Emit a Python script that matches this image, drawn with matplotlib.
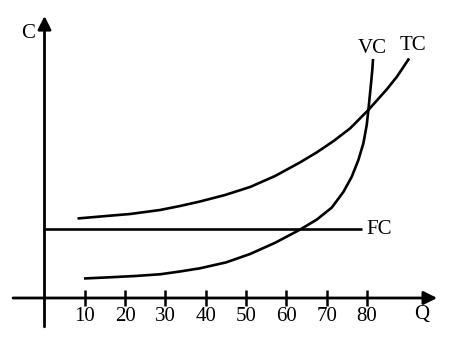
import matplotlib
matplotlib.use("Agg")
import matplotlib.pyplot as plt

plt.rcParams["font.family"] = ["Liberation Serif", "DejaVu Serif"]

# quantity ticks on the Q axis
q_ticks = [10, 20, 30, 40, 50, 60, 70, 80]

# total cost curve
tc_q = [8.19, 16.25, 21.22, 28.66, 33.62, 38.59, 44.79, 51.0, 57.2, 63.4,
        67.54, 71.66, 75.81, 80.35, 84.99, 87.47, 90.45]
tc_c = [19.88, 20.58, 21.0, 22.0, 23.0, 24.13, 25.75, 27.75, 30.5, 33.9,
        36.4, 39.2, 42.4, 47.0, 52.25, 55.38, 59.88]

# variable cost curve
vc_q = [9.8, 16.25, 22.46, 28.66, 33.62, 38.59, 45.04, 51.0, 57.2, 63.4,
        67.54, 71.27, 74.14, 76.23, 77.87, 79.11, 79.95, 80.35, 80.6, 81.02,
        81.32, 81.51]
vc_c = [4.88, 5.18, 5.5, 5.93, 6.63, 7.43, 8.9, 11.0, 13.8, 17.1,
        19.6, 22.6, 26.5, 30.33, 34.5, 38.68, 43.3, 47.0, 49.5, 53.75,
        57.0, 59.75]

# fixed cost line
fc_q = [0, 78.7]
fc_c = [17.2, 17.2]

fig = plt.figure(figsize=(4.5, 3.56), dpi=100)
ax = fig.add_axes([0, 0, 1, 1])
ax.set_xlim(-11.04, 100.6)
ax.set_ylim(-14.5, 74.5)

lw = 1.9
for xs, ys in [(tc_q, tc_c), (vc_q, vc_c), (fc_q, fc_c)]:
    ax.plot(xs, ys, color="black", lw=lw, solid_capstyle="butt",
            solid_joinstyle="round")

# axes with arrow heads
arrow = dict(arrowstyle="-|>", lw=2.0, color="black", mutation_scale=20,
             shrinkA=0, shrinkB=0)
ax.annotate("", xy=(97.4, 0), xytext=(-7.8, 0), arrowprops=arrow)
ax.annotate("", xy=(0, 70.5), xytext=(0, -7.2), arrowprops=arrow)

for s in ax.spines.values():
    s.set_visible(False)
ax.spines["bottom"].set_position(("data", 0))
ax.set_xticks(q_ticks)
ax.set_xticklabels([str(q) for q in q_ticks], fontsize=15)
ax.tick_params(axis="x", direction="inout", length=11, width=1.8, pad=1)
ax.set_yticks([])

ax.text(-4.1, 66.25, "C", fontsize=15, ha="center", va="center")
ax.text(93.7, -4.25, "Q", fontsize=15, ha="center", va="center")
ax.text(81.2, 62.4, "VC", fontsize=15, ha="center", va="center")
ax.text(91.4, 63.0, "TC", fontsize=15, ha="center", va="center")
ax.text(79.8, 17.25, "FC", fontsize=15, ha="left", va="center")

fig.savefig("out.png", dpi=100)
